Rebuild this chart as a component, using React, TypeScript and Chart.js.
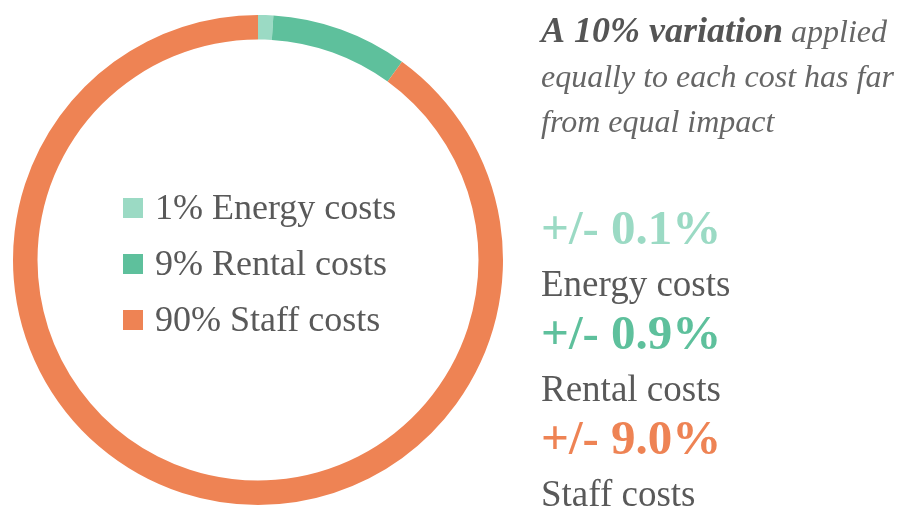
import React, { useEffect, useRef } from "react";
import { Chart, registerables } from "chart.js";

Chart.register(...registerables);

const categories = ["Energy costs", "Rental costs", "Staff costs"];
const shares = [1, 9, 90];
const impacts = [0.1, 0.9, 9.0];
const colors = ["#9bdac4", "#5ec09c", "#ee8354"];
const titleBold = "A 10% variation";
const titleLines = [" applied", "equally to each cost has far", "from equal impact"];

const FONT = '"Liberation Serif", "Times New Roman", serif';
const TEXT = "#595959";

const overlayPlugin = {
  id: "overlay",
  afterDraw(chart: any) {
    const ctx = chart.ctx as CanvasRenderingContext2D;
    const arc = chart.getDatasetMeta(0).data[0];
    const cx = arc.x;
    const cy = arc.y;
    const labels = chart.data.labels as string[];
    const data = chart.data.datasets[0].data as number[];
    const bg = chart.data.datasets[0].backgroundColor as string[];
    ctx.save();
    ctx.textBaseline = "alphabetic";
    ctx.textAlign = "left";
    // center legend
    labels.forEach((lab, i) => {
      const rowY = cy - 52 + i * 56;
      ctx.fillStyle = bg[i];
      ctx.fillRect(cx - 135, rowY - 10, 20, 20);
      ctx.fillStyle = TEXT;
      ctx.font = `36px ${FONT}`;
      ctx.fillText(`${data[i]}% ${lab}`, cx - 103, rowY + 11);
    });
    // right text
    const x0 = 541;
    ctx.font = `bold italic 36px ${FONT}`;
    ctx.fillStyle = "#555555";
    ctx.fillText(titleBold, x0, 42);
    const w = ctx.measureText(titleBold).width;
    ctx.font = `italic 32px ${FONT}`;
    ctx.fillStyle = "#666666";
    ctx.fillText(titleLines[0], x0 + w, 42);
    ctx.fillText(titleLines[1], x0, 87);
    ctx.fillText(titleLines[2], x0, 132);
    labels.forEach((lab, i) => {
      const base = 244 + i * 105;
      ctx.font = `bold 49px ${FONT}`;
      ctx.fillStyle = bg[i];
      ctx.fillText(`+/- ${impacts[i].toFixed(1)}%`, x0, base);
      ctx.font = `37px ${FONT}`;
      ctx.fillStyle = TEXT;
      ctx.fillText(lab, x0, base + 52);
    });
    ctx.restore();
  },
};

export default function App() {
  const ref = useRef<HTMLCanvasElement | null>(null);
  useEffect(() => {
    if (!ref.current) return;
    const chart = new Chart(ref.current, {
      type: "doughnut",
      data: {
        labels: categories,
        datasets: [
          {
            data: shares,
            backgroundColor: colors,
            borderWidth: 0,
          },
        ],
      },
      options: {
        responsive: false,
        animation: false,
        cutout: "90%",
        layout: { padding: { left: 13, top: 15, right: 402, bottom: 4 } },
        plugins: {
          legend: { display: false },
          tooltip: { enabled: false },
        },
      },
      plugins: [overlayPlugin],
    });
    return () => chart.destroy();
  }, []);
  return (
    <div style={{ position: "absolute", left: 0, top: 0, width: 905, height: 509, background: "#fff" }}>
      <canvas ref={ref} width={905} height={509} style={{ display: "block" }} />
    </div>
  );
}
